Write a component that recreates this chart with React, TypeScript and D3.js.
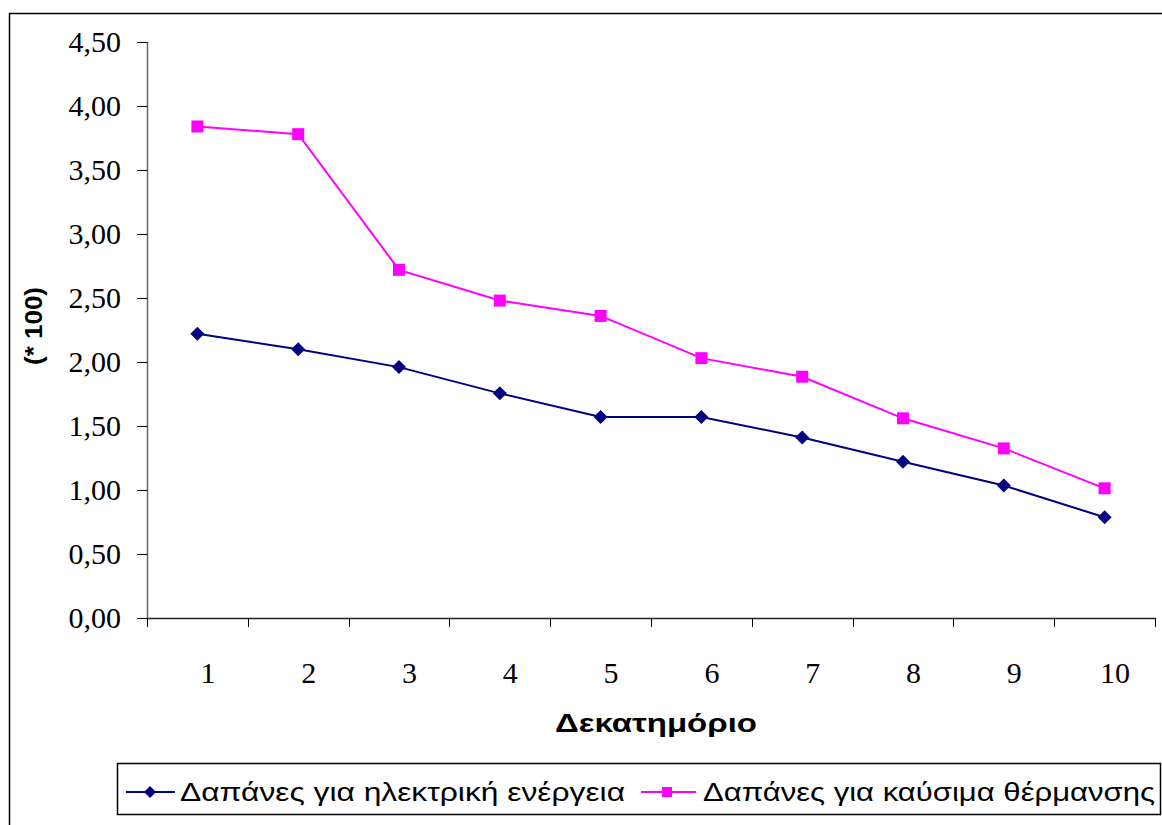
import React from "react";
import * as d3 from "d3";

const categories = ["1", "2", "3", "4", "5", "6", "7", "8", "9", "10"];
const electricity = [2.22, 2.1, 1.96, 1.755, 1.57, 1.57, 1.41, 1.22, 1.035, 0.787];
const heating = [3.84, 3.78, 2.72, 2.48, 2.36, 2.03, 1.885, 1.56, 1.325, 1.013];
const yTicks = [0, 0.5, 1, 1.5, 2, 2.5, 3, 3.5, 4, 4.5];
const seriesNames = ["Δαπάνες για ηλεκτρική ενέργεια", "Δαπάνες για καύσιμα θέρμανσης"];
const xTitle = "Δεκατημόριο";
const yTitle = "(* 100)";

const W = 1162;
const H = 825;
const NAVY = "#000080";
const MAGENTA = "#FF00FF";
const SERIF = "'Liberation Serif', 'Times New Roman', 'DejaVu Serif', serif";
const SANS = "'Liberation Sans', Arial, sans-serif";

export default function App() {
  const x = d3.scaleBand().domain(categories).range([147, 1155]);
  const y = d3.scaleLinear().domain([0, 4.5]).range([618, 42]);
  const cx = (c: string) => (x(c) as number) + x.bandwidth() / 2;
  const line = d3
    .line<number>()
    .x((_, i) => cx(categories[i]))
    .y((d) => y(d));
  const fmt = (v: number) => d3.format(".2f")(v).replace(".", ",");
  const diamond = (s: number) => `M0,${-s}L${s},0L0,${s}L${-s},0Z`;

  return (
    <div style={{ position: "absolute", left: 0, top: 0 }}>
      <svg width={W} height={H} style={{ display: "block", background: "#fff" }}>
        <rect x={9.5} y={13.5} width={1165} height={830} fill="#fff" stroke="#000" strokeWidth={1.5} />
        {/* y axis */}
        <line x1={147.5} x2={147.5} y1={y(4.5)} y2={y(0)} stroke="#666" strokeWidth={1.5} />
        {yTicks.map((t) => (
          <g key={t}>
            <line x1={137} x2={147.5} y1={Math.round(y(t)) + 0.5} y2={Math.round(y(t)) + 0.5} stroke="#000" />
            <text
              x={121}
              y={y(t)}
              dy="0.34em"
              textAnchor="end"
              style={{ fontFamily: SERIF, fontSize: "30px" }}
              fill="#000"
            >
              {fmt(t)}
            </text>
          </g>
        ))}
        {/* x axis */}
        <line x1={147} x2={1156} y1={618.5} y2={618.5} stroke="#222" strokeWidth={1.5} />
        {categories.map((c) => (
          <line key={"t" + c} x1={Math.round(x(c) as number) + 0.5} x2={Math.round(x(c) as number) + 0.5} y1={618} y2={627} stroke="#000" />
        ))}
        <line x1={1155.5} x2={1155.5} y1={618} y2={627} stroke="#000" />
        {categories.map((c) => (
          <text key={"l" + c} x={cx(c) + 10.5} y={683} textAnchor="middle" style={{ fontFamily: SERIF, fontSize: "30px" }} fill="#000">
            {c}
          </text>
        ))}
        {/* titles */}
        <text x={656} y={732} textAnchor="middle" style={{ fontFamily: SANS, fontWeight: "bold", fontSize: "26px" }} textLength={202} lengthAdjust="spacingAndGlyphs">
          {xTitle}
        </text>
        <text
          transform={`translate(42,326) rotate(-90)`}
          textAnchor="middle"
          style={{ fontFamily: SANS, fontWeight: "bold", fontSize: "24px" }}
          textLength={78}
          lengthAdjust="spacingAndGlyphs"
        >
          {yTitle}
        </text>
        {/* series */}
        <path d={line(heating) || ""} fill="none" stroke={MAGENTA} strokeWidth={2} />
        <path d={line(electricity) || ""} fill="none" stroke={NAVY} strokeWidth={2} />
        {heating.map((v, i) => (
          <rect key={"h" + i} x={cx(categories[i]) - 6} y={y(v) - 6} width={12} height={12} fill={MAGENTA} />
        ))}
        {electricity.map((v, i) => (
          <path key={"e" + i} d={diamond(7)} transform={`translate(${cx(categories[i])},${y(v)})`} fill={NAVY} />
        ))}
        {/* legend */}
        <rect x={117.5} y={763.5} width={1043} height={51} fill="#fff" stroke="#000" strokeWidth={1.5} />
        <line x1={126} x2={175} y1={792} y2={792} stroke={NAVY} strokeWidth={2} />
        <path d={diamond(6)} transform="translate(150,792)" fill={NAVY} />
        <text x={180} y={801} style={{ fontFamily: SANS, fontSize: "25px" }} textLength={445} lengthAdjust="spacingAndGlyphs">
          {seriesNames[0]}
        </text>
        <line x1={641} x2={696} y1={792} y2={792} stroke={MAGENTA} strokeWidth={2} />
        <rect x={662} y={787} width={10} height={10} fill={MAGENTA} />
        <text x={703} y={801} style={{ fontFamily: SANS, fontSize: "25px" }} textLength={452} lengthAdjust="spacingAndGlyphs">
          {seriesNames[1]}
        </text>
      </svg>
    </div>
  );
}
